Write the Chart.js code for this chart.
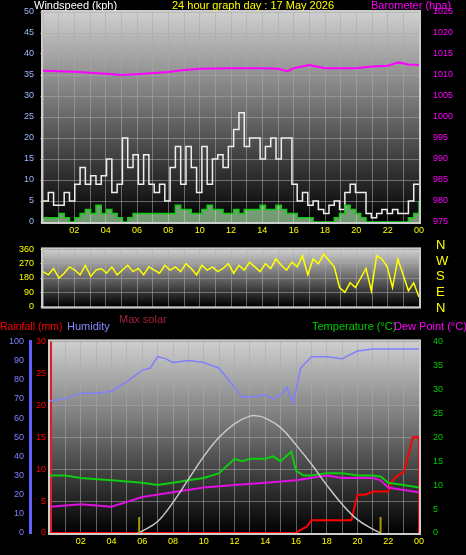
<!DOCTYPE html>
<html><head><meta charset="utf-8">
<script src="https://cdn.jsdelivr.net/npm/chart.js@4/dist/chart.umd.min.js"></script>
<style>
body{margin:0;background:#000;width:466px;height:555px;position:relative;overflow:hidden;font-family:"Liberation Sans",Arial,sans-serif}
.w{position:absolute;left:0;width:466px}
.t{position:absolute;font-size:11px;white-space:nowrap;z-index:2}
</style></head><body>
<div class="w" style="top:0;height:243px"><canvas id="c1" width="466" height="243" style="width:466px;height:243px"></canvas></div>
<div class="w" style="top:238px;height:80px"><canvas id="c2" width="466" height="80" style="width:466px;height:80px"></canvas></div>
<div class="w" style="top:330px;height:225px"><canvas id="c3" width="466" height="225" style="width:466px;height:225px"></canvas></div>
<div class="t" style="left:34px;top:-1px;color:#fff">Windspeed (kph)</div>
<div class="t" style="left:172px;top:-1px;color:#ff0">24 hour graph day : 17 May 2026</div>
<div class="t" style="left:371px;top:-1px;color:#f0f">Barometer (hpa)</div>
<div class="t" style="left:436px;top:237px;color:#ff0;font-size:13px;line-height:15.7px">N<br>W<br>S<br>E<br>N</div>
<div class="t" style="left:119px;top:313px;color:#a0203a">Max solar</div>
<div class="t" style="left:0px;top:320px;color:#f00;font-size:10.5px">Rainfall (mm)</div>
<div class="t" style="left:67px;top:320px;color:#8888ff">Humidity</div>
<div class="t" style="left:312px;top:320px;color:#0c0">Temperature (°C)</div>
<div class="t" style="left:394px;top:320px;color:#f0f">Dew Point (°C)</div>
<script>
const hourTicks=[2,4,6,8,10,12,14,16,18,20,22,24];
const windGust=[5,7,4,4,7,5, 9,13,9,11,9,11, 15,7,9,20,13,16, 9,16,9,7,9,5, 13,18,9,18,13,7, 18,9,15,16,13,18, 22,26,18,20,20,15, 18,20,15,20,20,9, 5,7,4,5,3,2, 4,5,3,7,9,7, 7,2,1,2,3,2, 3,2,2,5,9,9];
const windAvg=[1,1,1,2,1,0, 1,2,3,2,4,2, 3,2,1,0,1,2, 2,2,2,2,2,2, 2,4,3,3,2,2, 3,4,3,3,2,2, 3,2,3,3,3,4, 3,3,4,3,2,2, 1,1,1,0,0,0, 0,1,2,4,3,2, 1,0,0,0,0,0, 0,0,0,1,2,5];
const pressHours=[0,2,4,5,6,8,9,10,12,14,15,15.6,16,17,18,20,21,22,22.7,23.3,24];
const pressure=[1011,1010.8,1010.3,1010,1010.2,1010.7,1011.2,1011.5,1011.6,1011.6,1011.5,1010.9,1011.6,1012.4,1011.6,1011.6,1012,1012.2,1013,1012.5,1012.4];
const windDir=[220,200,240,180,210,250,230,200,260,190,230,240, 210,250,200,230,260,220,240,200,250,230,210,260, 230,250,220,270,240,200,260,230,250,220,240,270, 210,260,230,280,250,220,270,240,300,260,230,280, 250,320,200,300,270,330,290,250,120,90,150,120, 180,240,100,320,300,250,120,300,200,100,150,60];
const humHours=[0,1,2,3,4,5,6,6.5,7,7.5,8,9,10,11,11.5,12,12.5,13,14,14.5,15,15.4,15.8,16,16.3,17,18,19,20,21,22,23,24];
const humidity=[69,70,73,73,74,79,85,86,92,91,89,90,89,86,81,76,71,71,72,70,72,76,68,75,86,92,92,91,95,96,96,96,96];
const solarHours=[0,5.7,6,7,8,9,10,11,12,13,13.6,14,15,16,17,18,19,20,21,21.5,24];
const solar=[null,0,1,6,16,28,40,50,57,61,61,60,55,46,36,25,15,7,2,0,null];
const tempHours=[0,1,2,4,6,7,8,9,10,11,12,12.5,13,14,14.5,15,15.7,16,16.5,17,18,19,20,21,21.5,22,23,24];
const temperature=[12,12,11.5,11,10.5,10,10.5,11,11.5,12.5,15.5,15,15.5,15.5,16,15,17,13,12,12,12.5,12.5,12,12,11.8,10.5,10,9.5];
const dewHours=[0,2,4,5,6,8,10,12,14,16,18,19,20,21,21.5,22,23,24];
const dewPoint=[5.5,6,5.5,6.5,7.5,8.5,9.5,10,10.5,11,12,11.5,11.5,11.5,11,9.5,9,8.5];
const rainHours=[0,16,16.3,16.7,17,19.6,20,20.5,21,22,22.2,22.6,23,23.3,23.6,24,24];
const rainfall=[0,0,0.5,1,2,2,6,6,6.5,6.5,8,9,9.5,12,15,15,0];
const sunMarks=[5.8,21.5];

const pts=(xs,ys)=>ys.map((v,i)=>({x:xs[i],y:v}));
const idx=(ys)=>ys.map((v,i)=>({x:i*24/(ys.length-1),y:v}));
const bg={id:'bg',beforeDraw(c){const a=c.chartArea,x=c.ctx;const g=x.createLinearGradient(0,a.top,0,a.bottom);g.addColorStop(0,'#cfcfcf');g.addColorStop(1,'#000');x.save();x.fillStyle=g;x.fillRect(a.left,a.top,a.right-a.left,a.bottom-a.top);x.restore();},
 afterDraw(c){const a=c.chartArea,x=c.ctx;x.save();x.strokeStyle='#ccc';x.lineWidth=2;x.strokeRect(a.left-1,a.top-1,a.right-a.left+2,a.bottom-a.top+2);x.restore();}};
const gridC={color:'rgba(170,170,170,0.55)',lineWidth:1,tickLength:3};
const xAxis=(h,showLabels)=>({type:'linear',min:0,max:24,afterBuildTicks:s=>{s.ticks=[];for(let i=0;i<=24;i++)s.ticks.push({value:i});},
 ticks:{color:'#ff0',font:{size:9},display:showLabels,autoSkip:false,maxRotation:0,callback:v=>hourTicks.includes(v)?String(v%24).padStart(2,'0'):''},
 grid:Object.assign({},gridC,{drawTicks:false}),border:{display:false},afterFit:s=>{s.height=h;}});
const base={responsive:false,devicePixelRatio:1,animation:false,plugins:{legend:{display:false},tooltip:{enabled:false}},elements:{point:{radius:0}}};

new Chart(document.getElementById('c1'),{type:'line',plugins:[bg],data:{datasets:[
 {data:pts(pressHours,pressure),yAxisID:'y1',borderColor:'#f0f',borderWidth:2,tension:0},
 {data:idx(windAvg),yAxisID:'y',borderColor:'#1c1',borderWidth:1.5,stepped:true,backgroundColor:'rgba(190,255,190,0.6)',fill:'origin'},
 {data:idx(windGust),yAxisID:'y',borderColor:'#eee',borderWidth:1.5,stepped:true}
]},options:Object.assign({},base,{layout:{padding:{top:12}},scales:{
 x:xAxis(21,true),
 y:{min:0,max:50,ticks:{stepSize:5,color:'#9ab8ff',font:{size:9},padding:6},grid:gridC,border:{display:false},afterFit:s=>{s.width=43;}},
 y1:{position:'right',min:975,max:1025,ticks:{stepSize:5,color:'#f0f',font:{size:9},padding:6,callback:v=>String(v)},grid:{display:false},border:{display:false},afterFit:s=>{s.width=47;}}
}})});

new Chart(document.getElementById('c2'),{type:'line',plugins:[bg],data:{datasets:[
 {data:idx(windDir),borderColor:'#ff0',borderWidth:1.5}
]},options:Object.assign({},base,{layout:{padding:{top:8}},scales:{
 x:xAxis(0,false),
 y:{min:0,max:360,ticks:{stepSize:90,color:'#ff0',font:{size:9},padding:6},grid:gridC,border:{display:false},afterFit:s=>{s.width=43;}},
 y2:{position:'right',min:0,max:360,ticks:{display:false},grid:{display:false},border:{display:false},afterFit:s=>{s.width=47;}}
}})});

const sunPlugin={id:'sun',afterDatasetsDraw(c){const x=c.ctx,s=c.scales.x,a=c.chartArea;x.save();x.strokeStyle='#aa9a00';x.lineWidth=2;sunMarks.forEach(t=>{const px=s.getPixelForValue(t);x.beginPath();x.moveTo(px,a.bottom);x.lineTo(px,a.bottom-16);x.stroke();});x.restore();}};
new Chart(document.getElementById('c3'),{type:'line',plugins:[bg,sunPlugin],data:{datasets:[
 {data:pts(humHours,humidity),yAxisID:'yh',borderColor:'#8080ff',borderWidth:1.5},
 {data:pts(solarHours,solar),yAxisID:'yh',borderColor:'#c8c8c8',borderWidth:1.5,tension:0.4},
 {data:pts(dewHours,dewPoint),yAxisID:'yt',borderColor:'#e010e0',borderWidth:2},
 {data:pts(tempHours,temperature),yAxisID:'yt',borderColor:'#10cc10',borderWidth:2},
 {data:pts(rainHours,rainfall),yAxisID:'yr',borderColor:'#f00',borderWidth:2}
]},options:Object.assign({},base,{layout:{padding:{top:11}},scales:{
 x:xAxis(22,true),
 yh:{position:'left',weight:2,min:0,max:100,ticks:{stepSize:10,color:'#8080ff',font:{size:9},padding:6},grid:{display:false,drawTicks:false},border:{color:'#6060ff',width:3},afterFit:s=>{s.width=30;}},
 yr:{position:'left',weight:1,min:0,max:30,ticks:{stepSize:5,color:'#f00',font:{size:9},padding:4},grid:Object.assign({},gridC,{drawTicks:false}),border:{color:'#dd2020',width:3},afterFit:s=>{s.width=20;}},
 yt:{position:'right',min:0,max:40,ticks:{stepSize:5,color:'#0c0',font:{size:9},padding:6},grid:{display:false},border:{display:false},afterFit:s=>{s.width=47;}}
}})});
</script></body></html>
